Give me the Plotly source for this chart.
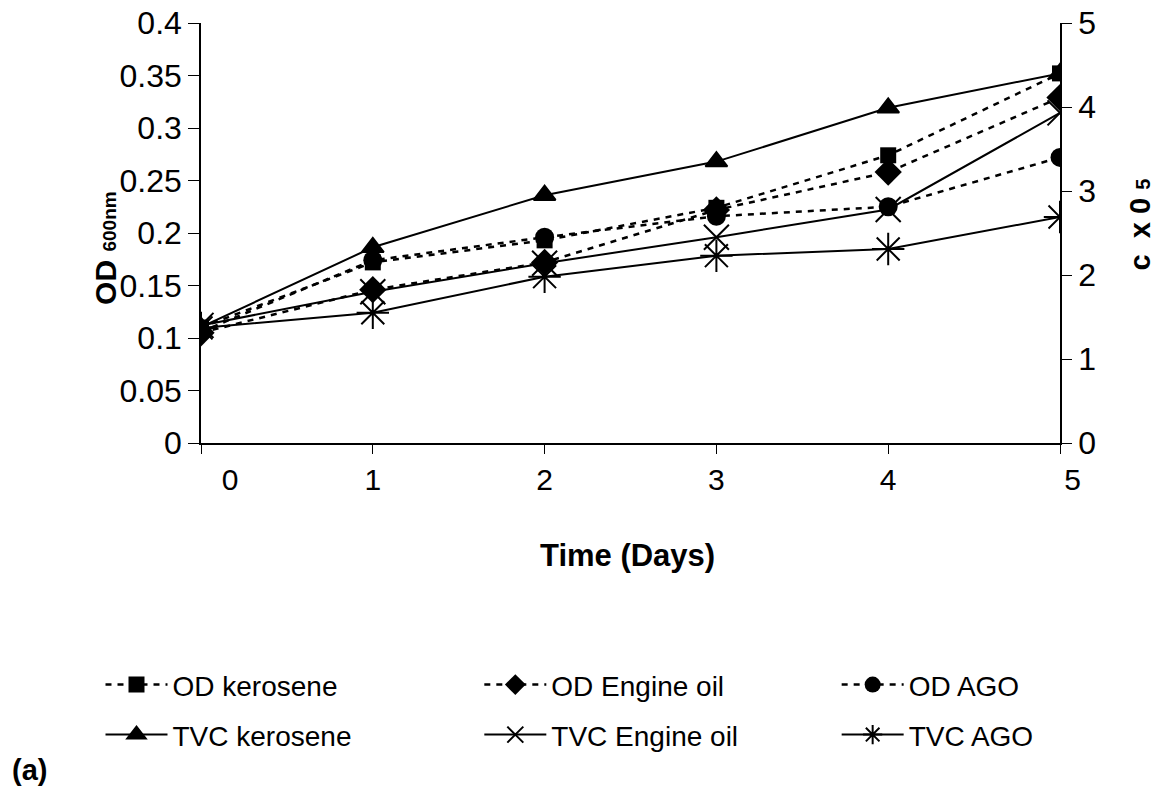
import plotly.graph_objects as go

days = [0, 1, 2, 3, 4, 5]
day_labels = ["\u00a0\u00a0\u00a0\u00a0\u00a0\u00a0\u00a00", "1", "2", "3", "4", "\u00a0\u00a0\u00a05"]

od_kerosene = [0.110, 0.172, 0.193, 0.224, 0.274, 0.352]
od_engine_oil = [0.105, 0.146, 0.172, 0.222, 0.258, 0.329]
od_ago = [0.106, 0.174, 0.196, 0.216, 0.225, 0.272]

tvc_kerosene = [1.38, 2.33, 2.95, 3.35, 3.99, 4.40]
tvc_engine_oil = [1.40, 1.80, 2.14, 2.45, 2.78, 3.93]
tvc_ago = [1.37, 1.55, 1.98, 2.23, 2.31, 2.69]

left_ticks = [0, 0.05, 0.1, 0.15, 0.2, 0.25, 0.3, 0.35, 0.4]
left_labels = ["0", "0.05", "0.1", "0.15", "0.2", "0.25", "0.3", "0.35", "0.4"]
right_ticks = [0, 1, 2, 3, 4, 5]

FONT = "Liberation Sans, Arial, sans-serif"

fig = go.Figure()

# legend positions (paper coords): columns and rows
col_x = [-0.117, 0.324, 0.740]
row_y = [-0.576, -0.695]

od_series = [
    ("OD kerosene", od_kerosene, "square", 16),
    ("OD Engine oil", od_engine_oil, "diamond", 21),
    ("OD AGO", od_ago, "circle", 19),
]
tvc_series = [
    ("TVC kerosene", tvc_kerosene, "triangle-up", 19),
    ("TVC Engine oil", tvc_engine_oil, "x-thin-open", 25),
    ("TVC AGO", tvc_ago, "asterisk-open", 27),
]

legend_layouts = {}
idx = 0
for r, series in enumerate([od_series, tvc_series]):
    for c, (name, vals, sym, sz) in enumerate(series):
        idx += 1
        lname = "legend" if idx == 1 else f"legend{idx}"
        if r == 0:
            line = dict(color="black", width=2.5, dash="6px,6px")
            marker = dict(symbol=sym, size=sz, color="black")
            yax = "y"
        else:
            line = dict(color="black", width=2)
            marker = dict(symbol=sym, size=sz, color="black",
                          line=dict(color="black", width=2))
            yax = "y2"
        fig.add_trace(go.Scatter(
            x=days, y=vals, name=name, mode="lines+markers",
            line=line, marker=marker, yaxis=yax, legend=lname,
        ))
        legend_layouts[lname] = dict(
            orientation="v", x=col_x[c], xanchor="left", y=row_y[r], yanchor="middle",
            font=dict(size=28), itemwidth=62, bgcolor="rgba(0,0,0,0)",
        )

fig.update_layout(
    width=1161, height=790,
    margin=dict(l=201, r=101, t=23, b=347, autoexpand=False),
    paper_bgcolor="white", plot_bgcolor="white",
    font=dict(family=FONT, size=30, color="black"),
    showlegend=True,
    xaxis=dict(
        range=[0, 5], tickvals=days, ticktext=day_labels,
        showgrid=False, zeroline=False, showline=True, linecolor="black", linewidth=1.5,
        ticks="outside", ticklen=9, tickcolor="black", tickwidth=1,
        tickfont=dict(size=30),
    ),
    yaxis=dict(
        range=[0, 0.4], tickvals=left_ticks, ticktext=left_labels,
        showgrid=False, zeroline=False, showline=True, linecolor="black", linewidth=1.5,
        ticks="outside", ticklen=11, tickcolor="black", tickwidth=1,
        tickfont=dict(size=32),
    ),
    yaxis2=dict(
        range=[0, 5], tickvals=right_ticks, overlaying="y", side="right",
        showgrid=False, zeroline=False, showline=True, linecolor="black", linewidth=1.5,
        ticks="outside", ticklen=10, tickcolor="black", tickwidth=1,
        tickfont=dict(size=32),
    ),
    annotations=[
        dict(text="<b>Time (Days)</b>", x=0.497, y=-0.267, xref="paper", yref="paper",
             xanchor="center", yanchor="middle", showarrow=False, font=dict(size=31)),
        dict(text="<b>OD <span style='font-size:19px'>600nm</span></b>", x=-0.112, y=0.464,
             xref="paper", yref="paper", textangle=-90, xanchor="center", yanchor="middle",
             showarrow=False, font=dict(size=30)),
        dict(text="<b>c  x 0 <span style='font-size:20px'>5</span></b>", x=1.093, y=0.52,
             xref="paper", yref="paper", textangle=-90, xanchor="center", yanchor="middle",
             showarrow=False, font=dict(size=29)),
        dict(text="<b>(a)</b>", x=-0.222, y=-0.779, xref="paper", yref="paper",
             xanchor="left", yanchor="middle", showarrow=False, font=dict(size=29)),
    ],
)
fig.update_layout(**legend_layouts)

fig.write_html("out.html", post_script="document.body.style.margin='0';",
               config={"displayModeBar": False})
